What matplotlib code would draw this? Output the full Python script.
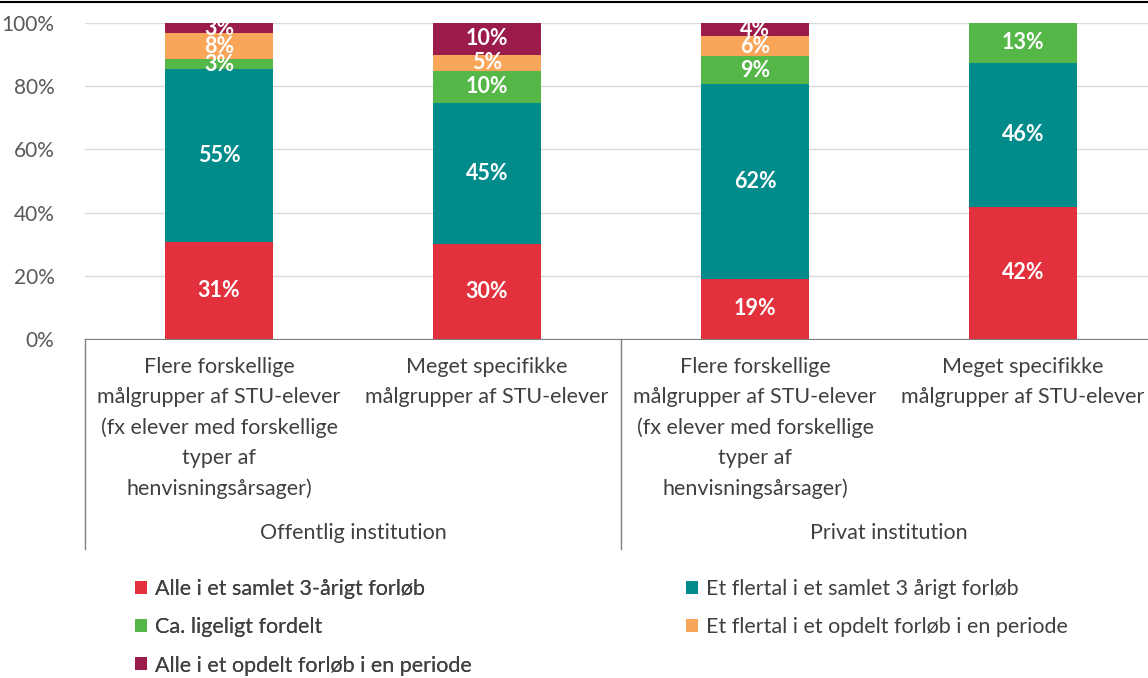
import matplotlib.pyplot as plt
from matplotlib.patches import Patch
from matplotlib.lines import Line2D

plt.rcParams['font.family'] = ['Lato', 'DejaVu Sans']

# categories (bar labels) and their groups
bar_labels = [
    "Flere forskellige\nmålgrupper af STU-elever\n(fx elever med forskellige\ntyper af\nhenvisningsårsager)",
    "Meget specifikke\nmålgrupper af STU-elever",
    "Flere forskellige\nmålgrupper af STU-elever\n(fx elever med forskellige\ntyper af\nhenvisningsårsager)",
    "Meget specifikke\nmålgrupper af STU-elever",
]
groups = ["Offentlig institution", "Privat institution"]

series_names = [
    "Alle i et samlet 3-årigt forløb",
    "Et flertal i et samlet 3 årigt forløb",
    "Ca. ligeligt fordelt",
    "Et flertal i et opdelt forløb i en periode",
    "Alle i et opdelt forløb i en periode",
]
colors = ["#E3303D", "#028B8B", "#55B748", "#F9A65A", "#9B1B4A"]

# percentages per series, one value per bar
alle_samlet = [30.7, 30.1, 19.0, 41.8]
flertal_samlet = [54.7, 44.6, 61.8, 45.6]
ligeligt = [3.1, 10.1, 8.6, 12.6]
flertal_opdelt = [8.2, 5.1, 6.4, 0.0]
alle_opdelt = [3.3, 10.1, 4.2, 0.0]
series = [alle_samlet, flertal_samlet, ligeligt, flertal_opdelt, alle_opdelt]

W, H = 1148, 678
fig = plt.figure(figsize=(W / 100, H / 100), dpi=100)
x0, x1, ytop, ybot = 85, 1157, 23, 339
ax = fig.add_axes([x0 / W, 1 - ybot / H, (x1 - x0) / W, (ybot - ytop) / H])

xs = [0.5, 1.5, 2.5, 3.5]
bottoms = [0.0] * 4
for name, vals, col in zip(series_names, series, colors):
    ax.bar(xs, vals, width=0.4, bottom=bottoms, color=col, label=name, zorder=2)
    for x, b, v in zip(xs, bottoms, vals):
        if v > 0:
            ax.text(x, b + v / 2, f"{round(v)}%", ha="center", va="center",
                    color="white", fontsize=15.5, fontweight="bold", zorder=3)
    bottoms = [b + v for b, v in zip(bottoms, vals)]

ax.set_xlim(0, 4)
ax.set_ylim(0, 100)
ax.set_yticks(range(0, 101, 20))
ax.set_yticklabels([f"{t}%" for t in range(0, 101, 20)])
ax.yaxis.grid(True, color="#D9D9D9", linewidth=1, zorder=0)
ax.set_axisbelow(True)
for s in ["top", "right", "left"]:
    ax.spines[s].set_visible(False)
ax.spines["bottom"].set_color("#7F7F7F")
ax.tick_params(axis="y", length=0, pad=22, labelsize=15, labelcolor="#595959")
ax.set_xticks(xs)
ax.set_xticklabels(bar_labels, fontsize=15.5, color="#404040", linespacing=1.62)
ax.tick_params(axis="x", length=0, pad=13)

# group separators and group labels
depth = -(549 - ybot) / (ybot - ytop)
for xv in [0, 2, 4]:
    ax.plot([xv, xv], [0, depth * 100], color="#7F7F7F", lw=1, clip_on=False,
            transform=ax.transData)
for i, g in enumerate(groups):
    ax.text(1 + 2 * i, (-(533 - ybot) / (ybot - ytop)) * 100, g, ha="center",
            va="center", fontsize=15.5, color="#404040")

# legend in two columns
handles = [Patch(facecolor=c, edgecolor="none") for c in colors]
leg_kw = dict(loc="upper left", frameon=False, fontsize=15.5, handlelength=0.55,
              handleheight=0.55, handletextpad=0.35, labelspacing=0.84,
              labelcolor="#404040")
leg1 = fig.legend([handles[i] for i in (0, 2, 4)], [series_names[i] for i in (0, 2, 4)],
                  bbox_to_anchor=(116 / W, 1 - 560 / H), **leg_kw)
leg2 = fig.legend([handles[i] for i in (1, 3)], [series_names[i] for i in (1, 3)],
                  bbox_to_anchor=(667 / W, 1 - 560 / H), **leg_kw)
fig.add_artist(leg1)

# top border line
fig.add_artist(Line2D([0, 1], [1 - 2 / H, 1 - 2 / H], color="black", lw=1.5))

fig.savefig("out.png", dpi=100)
